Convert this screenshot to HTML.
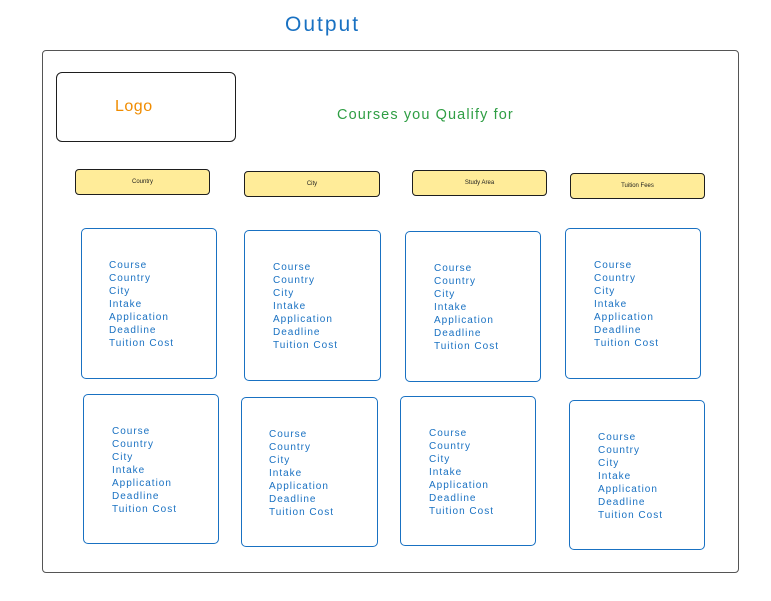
<!DOCTYPE html>
<html><head><style>
body{margin:0;width:771px;height:601px;background:#fff;position:relative;overflow:hidden;font-family:"Liberation Sans",sans-serif}
.a{position:absolute;box-sizing:border-box}
.card{border:1.3px solid #1971c2;border-radius:5px}
.y{background:#ffec99;border:1.5px solid #1e1e1e;border-radius:4px;font-size:6px;color:#1e1e1e;text-align:center}
.t{position:absolute;color:#1971c2;font-size:10px;line-height:13px;white-space:pre;letter-spacing:1px}
</style></head><body>
<div class="a" style="left:285px;top:13px;font-size:21px;color:#1971c2;letter-spacing:2px">Output</div>
<div class="a" style="left:42px;top:50px;width:697px;height:523px;border:1.5px solid #555;border-radius:4px"></div>
<div class="a" style="left:56px;top:72px;width:180px;height:70px;border:1.5px solid #1e1e1e;border-radius:6px"></div>
<div class="a" style="left:115px;top:98px;font-size:16px;color:#f08c00;letter-spacing:0.5px">Logo</div>
<div class="a" style="left:337px;top:107px;font-size:14.5px;color:#2f9e44;letter-spacing:1.1px">Courses you Qualify for</div>
<div class="a y" style="left:75px;top:169px;width:135px;height:26px;line-height:24px">Country</div>
<div class="a y" style="left:244px;top:171px;width:136px;height:26px;line-height:24px">City</div>
<div class="a y" style="left:412px;top:170px;width:135px;height:26px;line-height:24px">Study Area</div>
<div class="a y" style="left:570px;top:173px;width:135px;height:26px;line-height:24px">Tuition Fees</div>

<div class="a card" style="left:81px;top:228px;width:136px;height:151px"></div>
<div class="a card" style="left:244px;top:230px;width:137px;height:151px"></div>
<div class="a card" style="left:405px;top:231px;width:136px;height:151px"></div>
<div class="a card" style="left:565px;top:228px;width:136px;height:151px"></div>
<div class="a card" style="left:83px;top:394px;width:136px;height:150px"></div>
<div class="a card" style="left:241px;top:397px;width:137px;height:150px"></div>
<div class="a card" style="left:400px;top:396px;width:136px;height:150px"></div>
<div class="a card" style="left:569px;top:400px;width:136px;height:150px"></div>

<div class="t" style="left:109px;top:259px">Course
Country
City
Intake
Application
Deadline
Tuition Cost</div>
<div class="t" style="left:273px;top:261px">Course
Country
City
Intake
Application
Deadline
Tuition Cost</div>
<div class="t" style="left:434px;top:262px">Course
Country
City
Intake
Application
Deadline
Tuition Cost</div>
<div class="t" style="left:594px;top:259px">Course
Country
City
Intake
Application
Deadline
Tuition Cost</div>
<div class="t" style="left:112px;top:425px">Course
Country
City
Intake
Application
Deadline
Tuition Cost</div>
<div class="t" style="left:269px;top:428px">Course
Country
City
Intake
Application
Deadline
Tuition Cost</div>
<div class="t" style="left:429px;top:427px">Course
Country
City
Intake
Application
Deadline
Tuition Cost</div>
<div class="t" style="left:598px;top:431px">Course
Country
City
Intake
Application
Deadline
Tuition Cost</div>
</body></html>
